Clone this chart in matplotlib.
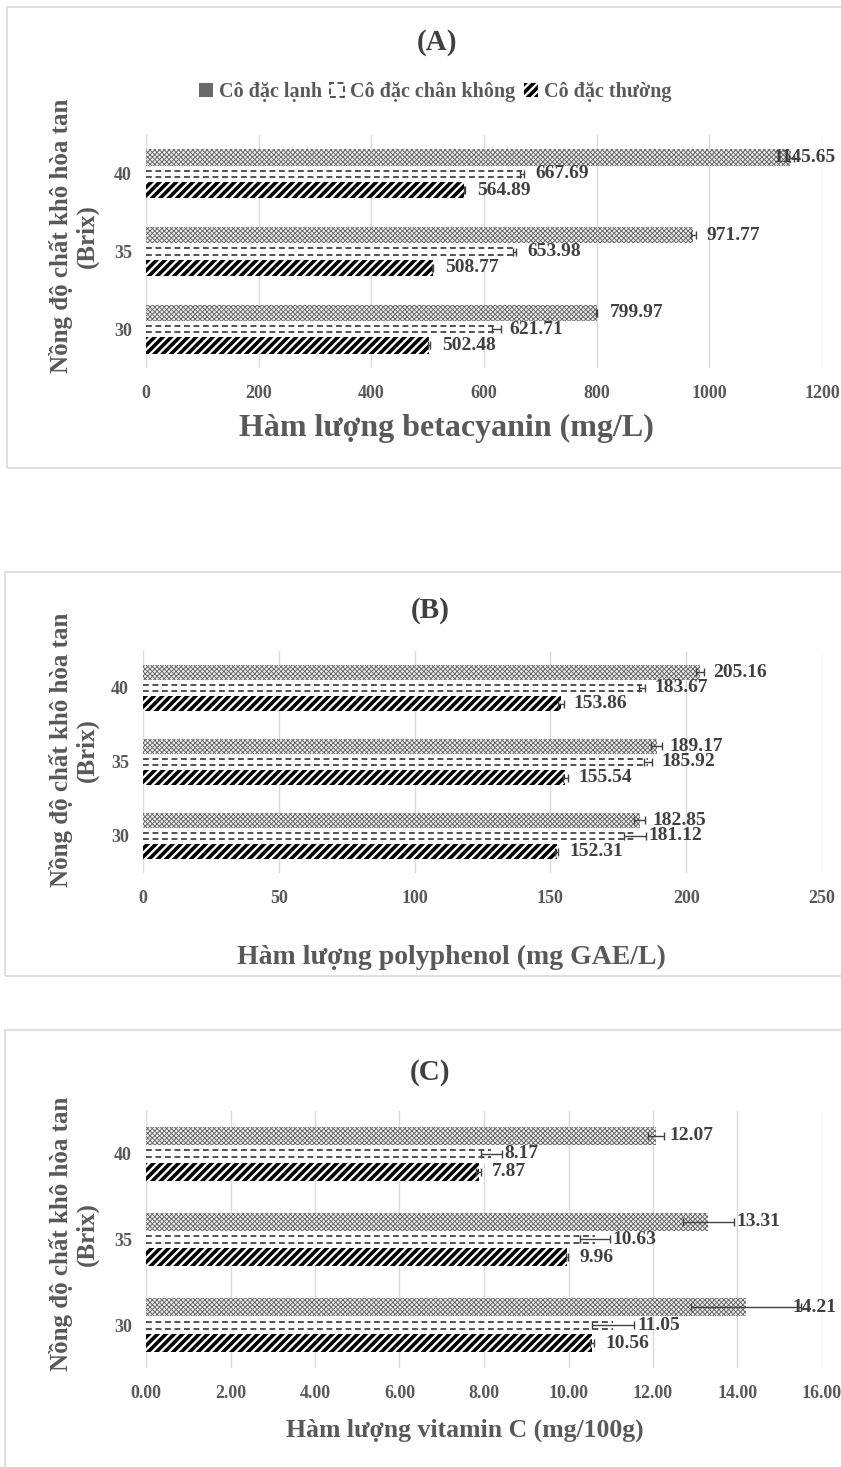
import numpy as np
import matplotlib
matplotlib.use('Agg')
import matplotlib.pyplot as plt
from matplotlib.patches import Rectangle, Patch

plt.rcParams['font.family'] = ['Liberation Serif', 'DejaVu Serif']
plt.rcParams['font.weight'] = 'bold'

# ---- data ----
conc = ['30', '35', '40']
series_names = ['Cô đặc lạnh', 'Cô đặc chân không', 'Cô đặc thường']

beta_lanh = [799.97, 971.77, 1145.65]
beta_chankhong = [621.71, 653.98, 667.69]
beta_thuong = [502.48, 508.77, 564.89]
beta_lanh_err = [1.0, 5.0, 5.0]
beta_chankhong_err = [8.0, 3.0, 3.0]
beta_thuong_err = [2.0, 1.0, 1.0]

poly_lanh = [182.85, 189.17, 205.16]
poly_chankhong = [181.12, 185.92, 183.67]
poly_thuong = [152.31, 155.54, 153.86]
poly_lanh_err = [2.0, 2.0, 1.5]
poly_chankhong_err = [4.0, 1.5, 1.0]
poly_thuong_err = [0.5, 0.8, 1.0]

vitc_lanh = [14.21, 13.31, 12.07]
vitc_chankhong = [11.05, 10.63, 8.17]
vitc_thuong = [10.56, 9.96, 7.87]
vitc_lanh_err = [1.3, 0.6, 0.2]
vitc_chankhong_err = [0.5, 0.35, 0.25]
vitc_thuong_err = [0.05, 0.02, 0.05]

W, H = 841, 1467
fig = plt.figure(figsize=(W / 100, H / 100), dpi=100)
txt_col = '#404040'
lab_col = '#595959'
grid_col = '#d9d9d9'
dash = (0, (3.5, 2.2))


def add_box(x0, y0, x1, y1):
    fig.add_artist(Rectangle((x0 / W, 1 - y1 / H), (x1 - x0) / W, (y1 - y0) / H,
                             transform=fig.transFigure, fill=False,
                             ec=grid_col, lw=1.2))


def px_axes(l, t, r, b):
    return fig.add_axes([l / W, 1 - b / H, (r - l) / W, (b - t) / H])


def set_hlw(bars, lw):
    for p in bars:
        if hasattr(p, 'set_hatch_linewidth'):
            p.set_hatch_linewidth(lw)


def panel(ax, lanh, ck, th, e_lanh, e_ck, e_th, xmax, step, fmt):
    y = np.arange(len(conc))
    h = 0.21
    ax.set_xlim(0, xmax)
    ax.set_ylim(-0.5, len(conc) - 0.5)

    plt.rcParams['hatch.linewidth'] = 0.7
    b1 = ax.barh(y + h, lanh, height=h, color='#f2f2f2', edgecolor='#6a6a6a',
                 hatch='xxxxxxx', lw=0, label=series_names[0], zorder=2)
    set_hlw(b1, 0.7)
    ax.barh(y, ck, height=h, color='white', lw=0, zorder=2)
    for d in (-0.2 * h, 0.2 * h):
        ax.hlines(y + d, 0, ck, colors='#333333', lw=1.2, linestyles=dash, zorder=2)
    plt.rcParams['hatch.linewidth'] = 2.6
    b3 = ax.barh(y - h, th, height=h, color='white', edgecolor='black',
                 hatch='////', lw=0, label=series_names[2], zorder=2)
    set_hlw(b3, 2.6)

    ppu = ax.bbox.width / xmax
    for off, vals, errs in [(h, lanh, e_lanh), (0, ck, e_ck), (-h, th, e_th)]:
        ax.errorbar(vals, y + off, xerr=errs, fmt='none', ecolor='#404040',
                    elinewidth=1, capsize=3, capthick=1, zorder=3)
        for yi, v, e in zip(y, vals, errs):
            s = f'{v:.2f}'
            start = max(v * ppu + 13, (v + e) * ppu + 3)
            est_w = len(s) * 9.5
            if ax.bbox.x0 + start + est_w > 840:
                start = 840 - est_w - ax.bbox.x0
            ax.text(start / ppu, yi + off, s, va='center', ha='left',
                    fontsize=14, color=txt_col, clip_on=False, zorder=4)

    ticks = np.arange(0, xmax + step / 2, step)
    ax.set_xticks(ticks)
    ax.set_xticklabels([fmt.format(t) for t in ticks])
    ax.set_yticks(y)
    ax.set_yticklabels(conc)
    ax.tick_params(length=0, labelsize=13, colors=lab_col, pad=12)
    ax.tick_params(axis='y', pad=10)
    ax.grid(axis='x', color=grid_col, lw=1)
    ax.set_axisbelow(True)
    for sp in ax.spines.values():
        sp.set_visible(False)
    return b1, b3


def side_label(xc, yc):
    fig.text(xc / W, 1 - yc / H, 'Nồng độ chất khô hòa tan\n(Brix)',
             rotation=90, ha='center', va='center', multialignment='center',
             fontsize=18, color=lab_col, linespacing=1.15)


# ---- panel A ----
add_box(7, 7, 860, 468)
axA = px_axes(146, 135, 822, 368)
b1, b3 = panel(axA, beta_lanh, beta_chankhong, beta_thuong,
               beta_lanh_err, beta_chankhong_err, beta_thuong_err, 1200, 200, '{:.0f}')
fig.text(437 / W, 1 - 42 / H, '(A)', ha='center', va='center', fontsize=21, color=txt_col)
fig.text(446 / W, 1 - 428 / H, 'Hàm lượng betacyanin (mg/L)', ha='center', va='center',
         fontsize=23, color=lab_col)
side_label(74, 236)
ck_handle = Patch(facecolor='white', edgecolor='#333333', lw=1.2, linestyle=dash)
fig.legend(handles=[b1[0], ck_handle, b3[0]], labels=series_names, loc='center',
           bbox_to_anchor=(435 / W, 1 - 92 / H), ncol=3, frameon=False,
           handlelength=0.7, handleheight=0.7, handletextpad=0.3, columnspacing=0.4,
           prop={'size': 14.5, 'weight': 'bold'}, labelcolor=lab_col)

# ---- panel B ----
add_box(5, 572, 860, 976)
axB = px_axes(143, 651, 822, 873)
panel(axB, poly_lanh, poly_chankhong, poly_thuong,
      poly_lanh_err, poly_chankhong_err, poly_thuong_err, 250, 50, '{:.0f}')
fig.text(430 / W, 1 - 610 / H, '(B)', ha='center', va='center', fontsize=21, color=txt_col)
fig.text(451 / W, 1 - 957 / H, 'Hàm lượng polyphenol (mg GAE/L)', ha='center', va='center',
         fontsize=20, color=lab_col)
side_label(74, 750)

# ---- panel C ----
add_box(5, 1030, 860, 1480)
axC = px_axes(146, 1111, 822, 1368)
panel(axC, vitc_lanh, vitc_chankhong, vitc_thuong,
      vitc_lanh_err, vitc_chankhong_err, vitc_thuong_err, 16, 2, '{:.2f}')
fig.text(430 / W, 1 - 1073 / H, '(C)', ha='center', va='center', fontsize=21, color=txt_col)
fig.text(465 / W, 1 - 1430 / H, 'Hàm lượng vitamin C (mg/100g)', ha='center', va='center',
         fontsize=18.5, color=lab_col)
side_label(74, 1234)

fig.savefig('out.png', dpi=100)
